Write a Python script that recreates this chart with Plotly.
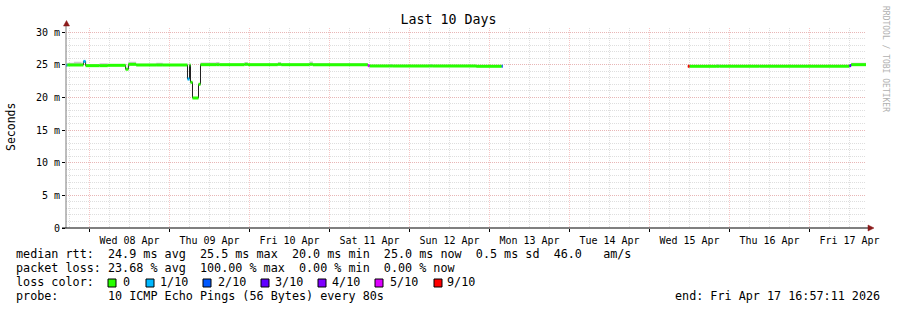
import plotly.graph_objects as go

# ---------------- data ----------------
times = [
    "2026-04-07 16:57:11", "2026-04-07 17:20", "2026-04-07 19:20", "2026-04-07 21:40",
    "2026-04-07 22:10", "2026-04-07 22:50", "2026-04-08 03:00", "2026-04-08 05:30",
    "2026-04-08 10:50", "2026-04-08 11:40", "2026-04-08 14:00", "2026-04-08 20:00",
    "2026-04-08 22:00", "2026-04-09 05:24", "2026-04-09 06:00", "2026-04-09 06:18",
    "2026-04-09 06:54", "2026-04-09 08:42", "2026-04-09 09:18", "2026-04-09 14:00",
    "2026-04-09 15:00", "2026-04-09 22:30", "2026-04-09 23:30", "2026-04-10 08:30",
    "2026-04-10 09:30", "2026-04-10 18:00", "2026-04-10 19:00", "2026-04-11 11:30",
    "2026-04-11 12:00", "2026-04-11 18:00", "2026-04-11 19:00", "2026-04-12 06:00",
    "2026-04-12 07:00", "2026-04-12 20:00", "2026-04-13 03:40", "2026-04-13 04:00",
    "2026-04-15 11:30", "2026-04-15 12:00", "2026-04-15 20:00", "2026-04-15 21:00",
    "2026-04-16 09:00", "2026-04-17 12:00", "2026-04-17 12:30", "2026-04-17 16:57:11",
]
median_ms = [
    24.9, 24.95, 24.95, 24.95,
    25.5, 24.85, 24.85, 24.9,
    24.3, 25.05, 24.95, 24.95,
    24.95, 22.8, 24.95, 22.3,
    19.9, 22.0, 25.0, 25.0,
    25.0, 25.05, 25.0, 25.05,
    25.0, 25.05, 25.0, 24.85,
    24.8, 24.8, 24.8, 24.8,
    24.8, 24.75, 24.75, None,
    24.75, 24.75, 24.75, 24.75,
    24.75, 24.85, 25.0, 25.0,
]
smoke_top_ms = [
    25.0, 25.3, 25.45, 25.15,
    25.6, 25.05, 25.2, 25.1,
    24.5, 25.45, 25.15, 25.3,
    25.1, 22.9, 25.0, 22.4,
    20.0, 22.1, 25.35, 25.4,
    25.15, 25.4, 25.15, 25.4,
    25.15, 25.5, 25.2, 24.95,
    24.95, 25.1, 24.95, 25.1,
    24.95, 24.95, 24.85, None,
    24.85, 24.95, 25.1, 24.95,
    24.95, 24.9, 25.3, 25.3,
]
loss_count = [
    1, 0, 0, 0,
    1, 0, 0, 0,
    0, 0, 0, 0,
    0, 1, 0, 0,
    0, 0, 0, 0,
    0, 0, 0, 0,
    0, 0, 0, 5,
    0, 0, 0, 0,
    0, 0, 2, 10,
    9, 0, 0, 0,
    0, 3, 0, 0,
]

loss_levels = [0, 1, 2, 3, 4, 5, 9]
loss_labels = ["0", "1/10", "2/10", "3/10", "4/10", "5/10", "9/10"]
loss_colors = ["#26ff00", "#00b8ff", "#0059ff", "#5e00ff", "#7e00ff", "#dd00ff", "#ff0000"]

x_start = "2026-04-07 16:57:11"
x_end = "2026-04-17 16:57:11"
y_tick_vals = [0, 5, 10, 15, 20, 25, 30]
y_tick_text = ["0", "5 m", "10 m", "15 m", "20 m", "25 m", "30 m"]

title_text = "Last 10 Days"
y_title = "Seconds"
stat_rtt = "median rtt:  24.9 ms avg  25.5 ms max  20.0 ms min  25.0 ms now  0.5 ms sd  46.0   am/s"
stat_loss = "packet loss: 23.68 % avg  100.00 % max  0.00 % min  0.00 % now"
probe_text = "probe:       10 ICMP Echo Pings (56 Bytes) every 80s"
end_text = "end: Fri Apr 17 16:57:11 2026"
side_text = "RRDTOOL / TOBI OETIKER"

# ---------------- geometry ----------------
FONT = "DejaVu Sans Mono"
W, H = 897, 310
ML, MR, MT, MB = 66, 31, 28, 82
PW, PH = W - ML - MR, H - MT - MB
Y_MAX = 30 * PH / 196.0


def px(x):
    return (x - ML) / PW


def py(y):
    return (H - MB - y) / PH


def nb(s):
    return s.replace(" ", "\u00a0")


fig = go.Figure()

# smoke (per contiguous block)
blocks = []
cur = []
for i, v in enumerate(median_ms):
    if v is None:
        if cur:
            blocks.append(cur)
        cur = []
    else:
        cur.append(i)
if cur:
    blocks.append(cur)

for blk in blocks:
    bx = [times[i] for i in blk]
    if blk[-1] + 1 < len(times) and median_ms[blk[-1] + 1] is None:
        bx_end = times[blk[-1] + 1]
    else:
        bx_end = None
    xs = bx + ([bx_end] if bx_end else [])
    ym = [median_ms[i] for i in blk] + ([median_ms[blk[-1]]] if bx_end else [])
    ys = [smoke_top_ms[i] for i in blk] + ([smoke_top_ms[blk[-1]]] if bx_end else [])
    fig.add_trace(go.Scatter(x=xs, y=ym, mode="lines", line=dict(width=0, shape="hv"),
                             hoverinfo="skip"))
    fig.add_trace(go.Scatter(x=xs, y=ys, mode="lines", line=dict(width=0, shape="hv"),
                             fill="tonexty", fillcolor="#cccccc", hoverinfo="skip"))

# thin dark median step line
fig.add_trace(go.Scatter(x=times, y=median_ms, mode="lines",
                         line=dict(color="#202020", width=1, shape="hv"),
                         connectgaps=False, hoverinfo="skip"))

# colored (by loss) median segments
for lvl, col in zip(loss_levels, loss_colors):
    sx, sy = [], []
    for i in range(len(times) - 1):
        if loss_count[i] == lvl and median_ms[i] is not None:
            sx += [times[i], times[i + 1], None]
            sy += [median_ms[i], median_ms[i], None]
    if sx:
        fig.add_trace(go.Scatter(x=sx, y=sy, mode="lines",
                                 line=dict(color=col, width=3), hoverinfo="skip"))

# ---------------- layout ----------------
major_grid = "rgba(240,150,150,0.55)"
minor_grid = "#dedede"

fig.update_layout(
    width=W, height=H,
    margin=dict(l=ML, r=MR, t=MT, b=MB, pad=0),
    paper_bgcolor="white", plot_bgcolor="white",
    showlegend=False,
    font=dict(family=FONT, color="black", size=10),
    title=dict(text=title_text, x=0.5, xref="container", xanchor="center",
               y=1 - 19 / H, yref="container", yanchor="middle",
               font=dict(family=FONT, size=13.3, color="black")),
    xaxis=dict(
        type="date", range=[x_start, x_end],
        tickmode="linear", tick0="2026-04-08 00:00", dtick=86400000,
        tickformat="%a %d %b", ticklabelmode="period",
        showgrid=True, gridcolor=major_grid, griddash="1px,1px", gridwidth=1,
        ticks="outside", ticklen=3, tickcolor="black",
        tickfont=dict(family=FONT, size=10, color="black"),
        showline=False, zeroline=False,
        minor=dict(tick0="2026-04-08 00:00", dtick=21600000, showgrid=True,
                   gridcolor=minor_grid, griddash="1px,1px", gridwidth=1),
    ),
    yaxis=dict(
        range=[0, Y_MAX], tickmode="array", tickvals=y_tick_vals, ticktext=y_tick_text,
        showgrid=True, gridcolor=major_grid, griddash="1px,1px", gridwidth=1,
        ticks="outside", ticklen=3, tickcolor="black",
        tickfont=dict(family=FONT, size=10, color="black"),
        showline=False, zeroline=False,
        minor=dict(dtick=1, showgrid=True, gridcolor=minor_grid,
                   griddash="1px,1px", gridwidth=1),
    ),
)

shapes = []
# axis lines
shapes.append(dict(type="line", xref="paper", yref="paper",
                   x0=px(66), x1=px(66), y0=py(228), y1=py(24),
                   line=dict(color="#7a7a7a", width=1)))
shapes.append(dict(type="line", xref="paper", yref="paper",
                   x0=px(62), x1=px(869), y0=py(228), y1=py(228),
                   line=dict(color="black", width=1)))
# arrows
arrow_col = "#8b1a1a"
shapes.append(dict(type="path", xref="paper", yref="paper",
                   path=f"M {px(63.5)},{py(26)} L {px(69.5)},{py(26)} L {px(66.5)},{py(20.5)} Z",
                   fillcolor=arrow_col, line=dict(color=arrow_col, width=0.5)))
shapes.append(dict(type="path", xref="paper", yref="paper",
                   path=f"M {px(868)},{py(225)} L {px(868)},{py(231)} L {px(874)},{py(228)} Z",
                   fillcolor=arrow_col, line=dict(color=arrow_col, width=0.5)))

annotations = []
txt_font = dict(family=FONT, size=11.75, color="black")


def add_text(text, x, y, xanchor="left", font=txt_font, angle=0):
    annotations.append(dict(text=nb(text), x=px(x), y=py(y), xref="paper", yref="paper",
                            xanchor=xanchor, yanchor="middle", showarrow=False,
                            borderpad=0, font=font, textangle=angle))


add_text(stat_rtt, 15, 254)
add_text(stat_loss, 15, 268)
add_text("loss color:", 15, 282)
add_text(probe_text, 15, 296)
add_text(end_text, 881, 296, xanchor="right")

sq_left = [108, 146, 203, 261, 318, 375, 434]
lbl_left = [122, 159, 217, 274, 331, 389, 446]
for col, lab, sx, lx in zip(loss_colors, loss_labels, sq_left, lbl_left):
    shapes.append(dict(type="rect", xref="paper", yref="paper",
                       x0=px(sx), x1=px(sx + 8), y0=py(287), y1=py(279),
                       fillcolor=col, line=dict(color="black", width=1)))
    add_text(lab, lx, 282)

annotations.append(dict(text=y_title, x=px(11), y=py(127), xref="paper", yref="paper",
                        xanchor="center", yanchor="middle", showarrow=False,
                        textangle=-90, font=dict(family=FONT, size=11.5, color="black")))
annotations.append(dict(text=nb(side_text), x=px(886), y=py(59), xref="paper", yref="paper",
                        xanchor="center", yanchor="middle", showarrow=False,
                        textangle=90, font=dict(family=FONT, size=8, color="#b0b0b0")))

fig.update_layout(shapes=shapes, annotations=annotations)

fig.write_html("out.html", config=dict(displayModeBar=False))
